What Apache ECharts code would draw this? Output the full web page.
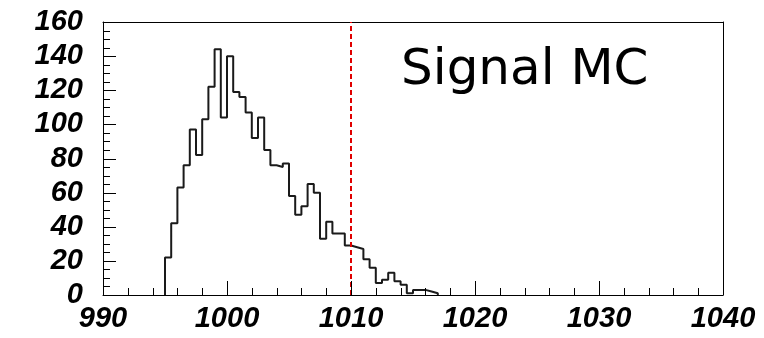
<!DOCTYPE html>
<html>
<head>
<meta charset="utf-8">
<script src="https://cdn.jsdelivr.net/npm/echarts@6/dist/echarts.min.js"></script>
<style>
html,body{margin:0;padding:0;background:#fff;}
#chart{width:764px;height:338px;}
</style>
</head>
<body>
<div id="chart"></div>
<script>
// Bin lower edges (width 0.5) and counts
var binStarts = [995.0, 995.5, 996.0, 996.5, 997.0, 997.5, 998.0, 998.5, 999.0, 999.5,
                 1000.0, 1000.5, 1001.0, 1001.5, 1002.0, 1002.5, 1003.0, 1003.5, 1004.0, 1004.5,
                 1005.0, 1005.5, 1006.0, 1006.5, 1007.0, 1007.5, 1008.0, 1008.5, 1009.0, 1009.5,
                 1010.0, 1010.5, 1011.0, 1011.5, 1012.0, 1012.5, 1013.0, 1013.5, 1014.0, 1014.5,
                 1015.0, 1015.5, 1016.0, 1016.5];
var counts = [22, 42, 63, 76, 97, 82, 103, 122, 144, 104,
              140, 119, 116, 107, 92, 104, 85, 76, 75, 77,
              58, 47, 52, 65, 60, 33, 43, 36, 36, 29,
              28, 27, 21, 16, 7, 9, 13, 8, 6, 1,
              3, 3, 2, 1];
var lastEdge = 1017.0;
var cutValue = 1010;
var xTicks = [990, 1000, 1010, 1020, 1030, 1040];
var yTicks = [0, 20, 40, 60, 80, 100, 120, 140, 160];
var xMinorStep = 2;
var yMinorStep = 5;
var labelText = 'Signal MC';

var stepData = [[binStarts[0], 0]];
for (var i = 0; i < binStarts.length; i++) stepData.push([binStarts[i], counts[i]]);
stepData.push([lastEdge, 0]);

var xMin = xTicks[0], xMax = xTicks[xTicks.length - 1];
var yMin = yTicks[0], yMax = yTicks[yTicks.length - 1];

var xTickVals = [], xTickLens = [], yTickVals = [], yTickLens = [];
for (var v = xMin; v <= xMax + 1e-9; v += xMinorStep) { xTickVals.push(v); xTickLens.push((v - xMin) % 10 === 0 ? 14 : 7); }
for (var w = yMin; w <= yMax + 1e-9; w += yMinorStep) { yTickVals.push(w); yTickLens.push((w - yMin) % 20 === 0 ? 13 : 7); }

var axisFont = {fontFamily: 'Liberation Sans', fontWeight: 'bold', fontStyle: 'italic', fontSize: 29, color: '#000',
                formatter: function (v) { return String(v); }};
var frameAxis = {
  axisLine: {show: true, onZero: false, lineStyle: {color: '#000', width: 1}},
  axisTick: {show: false}, minorTick: {show: false}, axisLabel: {show: false}, splitLine: {show: false}
};

var chart = echarts.init(document.getElementById('chart'), null, {renderer: 'canvas'});
chart.setOption({
  backgroundColor: '#fff',
  animation: false,
  grid: {left: 103, right: 41, top: 22, bottom: 43},
  xAxis: [{
    type: 'value', min: xMin, max: xMax, interval: 10, position: 'bottom',
    axisLine: {show: true, onZero: false, lineStyle: {color: '#000', width: 1}},
    axisTick: {show: false}, minorTick: {show: false},
    splitLine: {show: false},
    axisLabel: Object.assign({margin: 9}, axisFont)
  }, Object.assign({type: 'value', min: xMin, max: xMax, position: 'top'}, frameAxis)],
  yAxis: [{
    type: 'value', min: yMin, max: yMax, interval: 20, position: 'left',
    axisLine: {show: true, onZero: false, lineStyle: {color: '#000', width: 1}},
    axisTick: {show: false}, minorTick: {show: false},
    splitLine: {show: false},
    axisLabel: Object.assign({margin: 20}, axisFont)
  }, Object.assign({type: 'value', min: yMin, max: yMax, position: 'right'}, frameAxis)],
  series: [{
    type: 'line',
    step: 'end',
    data: stepData,
    symbol: 'none',
    lineStyle: {color: '#1a1a1a', width: 2},
    z: 3,
    markLine: {
      silent: true,
      symbol: 'none',
      label: {show: false},
      lineStyle: {color: '#e00000', type: [5, 3], width: 2},
      data: [{xAxis: cutValue}]
    }
  }],
  graphic: [{
    type: 'text',
    left: 401,
    top: 46,
    style: {text: labelText, fontFamily: 'DejaVu Sans', fontSize: 50, fill: '#000'}
  }]
});

// Tick marks placed through the chart's own axis scales
var tickEls = [];
xTickVals.forEach(function (val, k) {
  var p = chart.convertToPixel({xAxisIndex: 0, yAxisIndex: 0}, [val, yMin]);
  var x = Math.round(p[0]) + 0.5, y = Math.round(p[1]);
  tickEls.push({type: 'line', silent: true, z: 50,
    shape: {x1: x, y1: y, x2: x, y2: y - xTickLens[k]},
    style: {stroke: '#000', lineWidth: 1}});
});
yTickVals.forEach(function (val, k) {
  var p = chart.convertToPixel({xAxisIndex: 0, yAxisIndex: 0}, [xMin, val]);
  var x = Math.round(p[0]), y = Math.round(p[1]) + 0.5;
  tickEls.push({type: 'line', silent: true, z: 50,
    shape: {x1: x, y1: y, x2: x + yTickLens[k], y2: y},
    style: {stroke: '#000', lineWidth: 1}});
});
chart.setOption({graphic: [{type: 'text', left: 401, top: 46,
  style: {text: labelText, fontFamily: 'DejaVu Sans', fontSize: 50, fill: '#000'}}].concat(tickEls)}, {replaceMerge: ['graphic']});
</script>
</body>
</html>
